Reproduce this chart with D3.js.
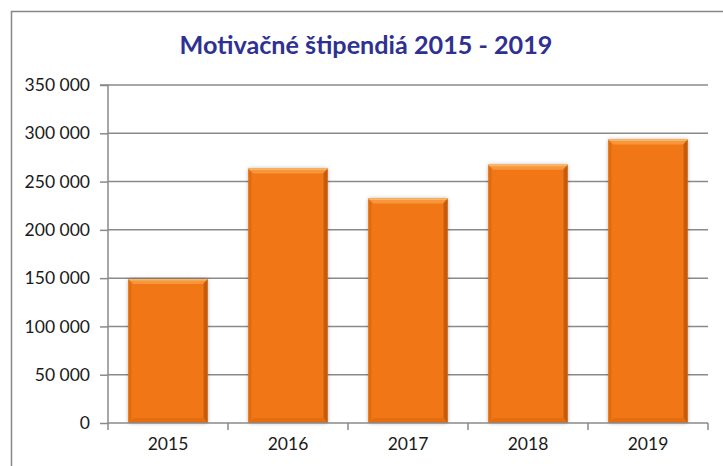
<!DOCTYPE html>
<html>
<head>
<meta charset="utf-8">
<script src="https://cdn.jsdelivr.net/npm/d3@7"></script>
<style>
  html, body { margin: 0; padding: 0; background: #fff; }
  svg { display: block; }
</style>
</head>
<body>
<script>
const categories = ["2015", "2016", "2017", "2018", "2019"];
const values = [149000, 263500, 232500, 267500, 293500];
const yTicks = [0, 50000, 100000, 150000, 200000, 250000, 300000, 350000];
const yTickLabels = ["0", "50 000", "100 000", "150 000", "200 000", "250 000", "300 000", "350 000"];
const titleText = "Motivačné štipendiá 2015 - 2019";

const W = 723, H = 466;
const FONT = "Lato, 'Open Sans', sans-serif";
const svg = d3.select("body").append("svg").attr("width", W).attr("height", H);

const defs = svg.append("defs");
const f = defs.append("filter").attr("id", "shadow").attr("x", "-20%").attr("y", "-10%").attr("width", "140%").attr("height", "120%");
f.append("feGaussianBlur").attr("in", "SourceAlpha").attr("stdDeviation", 2.2).attr("result", "b");
f.append("feComponentTransfer").attr("in", "b").attr("result", "o2")
  .append("feFuncA").attr("type", "linear").attr("slope", 0.3);
const fm = f.append("feMerge");
fm.append("feMergeNode").attr("in", "o2");
fm.append("feMergeNode").attr("in", "SourceGraphic");

// Outer chart border (cropped at right and bottom)
svg.append("rect").attr("x", 11.5).attr("y", 11.5).attr("width", W + 20).attr("height", H + 20)
  .attr("fill", "none").attr("stroke", "#868686").attr("stroke-width", 1.5);

const x0 = 108, x1 = 708, yTop = 85, yBot = 423;
const x = d3.scaleBand().domain(categories).range([x0, x1]).paddingInner(0.34).paddingOuter(0.17);
const y = d3.scaleLinear().domain([0, 350000]).range([yBot, yTop]);

// Gridlines
svg.append("g").selectAll("line").data(yTicks.filter(d => d > 0)).join("line")
  .attr("x1", x0).attr("x2", x1)
  .attr("y1", d => y(d)).attr("y2", d => y(d))
  .attr("stroke", "#8a8a8a").attr("stroke-width", 1.5);

// Y axis
const yAxis = d3.axisLeft(y).tickValues(yTicks).tickSize(8).tickPadding(10)
  .tickFormat((d, i) => yTickLabels[i]);
const gy = svg.append("g").attr("transform", `translate(${x0},0)`).call(yAxis);
gy.select(".domain").attr("stroke", "#8a8a8a").attr("stroke-width", 1.5).attr("d", `M-8,${yTop}H0V${yBot}`);
gy.selectAll(".tick line").attr("stroke", "#8a8a8a").attr("stroke-width", 1.5);
gy.selectAll(".tick text").attr("fill", "#1a1a1a").style("font-family", FONT).style("font-size", "17.5px");

// Bars
const base = "#F07612";
const gBars = svg.append("g");
categories.forEach((c, i) => {
  const bx = x(c), bw = x.bandwidth(), by = y(values[i]), bh = y(0) - y(values[i]);
  const g = gBars.append("g");
  g.append("rect").attr("x", bx).attr("y", by).attr("width", bw).attr("height", bh)
    .attr("fill", base).attr("filter", "url(#shadow)");
  const b = 5;
  g.append("path").attr("d", `M${bx},${by}H${bx + bw}L${bx + bw - b},${by + b}H${bx + b}Z`).attr("fill", "#F7973A");
  g.append("path").attr("d", `M${bx},${by}H${bx + bw}L${bx + bw - 1},${by + 1.5}H${bx + 1}Z`).attr("fill", "#FAB56A");
  g.append("path").attr("d", `M${bx},${by}L${bx + b - 2},${by + b}V${by + bh - b}L${bx},${by + bh}Z`).attr("fill", "#E06C0E");
  g.append("path").attr("d", `M${bx + bw},${by}L${bx + bw - b + 1},${by + b}V${by + bh - b}L${bx + bw},${by + bh}Z`).attr("fill", "#C35D0B");
  g.append("path").attr("d", `M${bx},${by + bh}H${bx + bw}L${bx + bw - b},${by + bh - b}H${bx + b}Z`).attr("fill", "#E46E0F");
});

// X axis
const xAxis = d3.axisBottom(x).tickSize(0).tickPadding(15);
const gx = svg.append("g").attr("transform", `translate(0,${yBot})`).call(xAxis);
gx.select(".domain").attr("stroke", "#8a8a8a").attr("stroke-width", 1.5).attr("d", `M${x0},0H${x1}`);
gx.selectAll(".tick text").attr("fill", "#1a1a1a").style("font-family", FONT).style("font-size", "17.5px");
const seps = [x0].concat(categories.map(c => x(c) + x.bandwidth() + x.step() * x.paddingInner() / 2));
seps[seps.length - 1] = x1;
gx.append("g").selectAll("line").data(seps).join("line")
  .attr("x1", d => d).attr("x2", d => d).attr("y1", 0).attr("y2", 7)
  .attr("stroke", "#8a8a8a").attr("stroke-width", 1.5);

// Title
const title = svg.append("text").attr("x", 366).attr("y", 54).attr("text-anchor", "middle")
  .attr("fill", "#2E3192").style("font-family", FONT).style("font-weight", "bold")
  .style("font-size", "24px").text(titleText);
const tl = title.node().getComputedTextLength();
if (tl > 0) title.style("font-size", (24 * 373 / tl) + "px");
</script>
</body>
</html>
